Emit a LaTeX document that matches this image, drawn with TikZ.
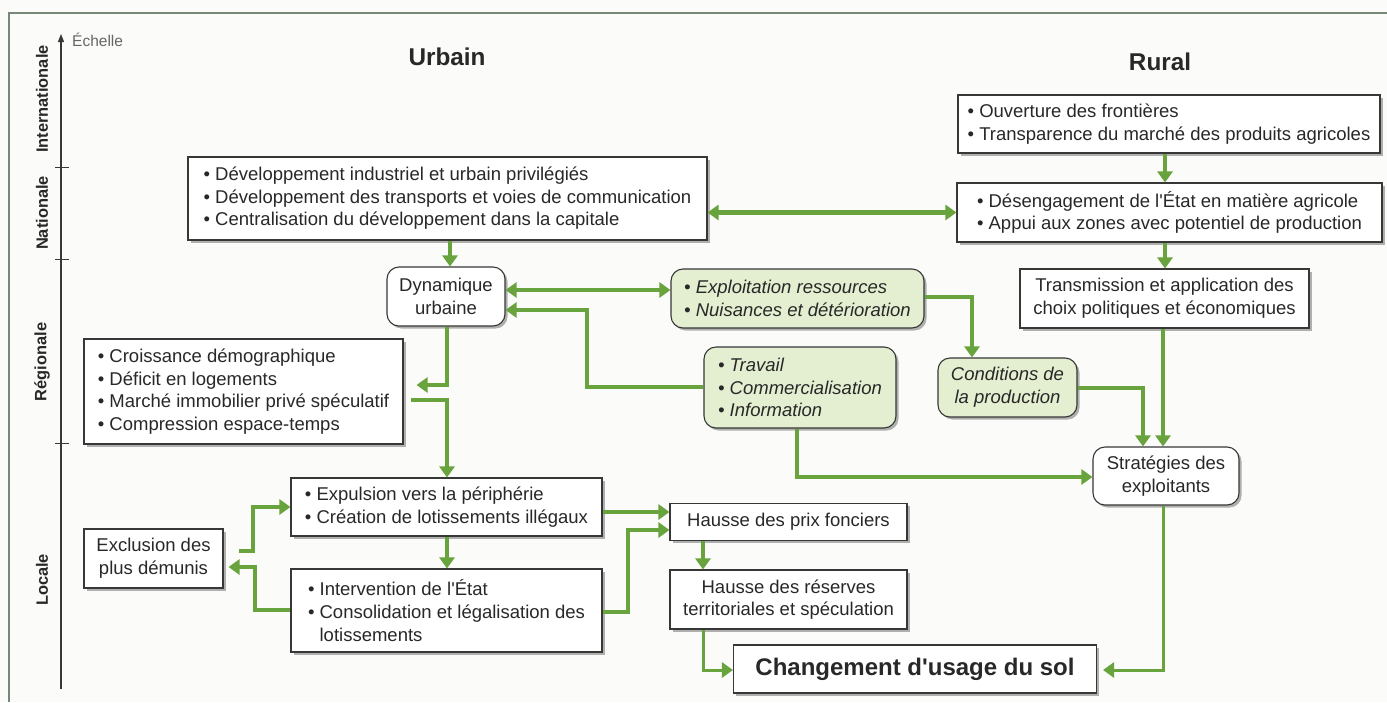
\documentclass[tikz,border=0pt]{standalone}
\usepackage{fontspec}
\setmainfont{Liberation Sans}[Ligatures=TeXOff]
\usetikzlibrary{arrows.meta,shadows}
\definecolor{arrgreen}{RGB}{104,163,62}
\definecolor{boxgreen}{RGB}{228,238,208}
\definecolor{boxline}{RGB}{55,55,55}
\definecolor{txt}{RGB}{40,40,40}
\definecolor{frm}{RGB}{120,135,120}
\definecolor{bg}{RGB}{251,251,249}
\tikzset{
  gtip/.tip={Triangle[length=11pt,width=15pt]},
  base/.style={draw=boxline, line width=1.1pt, fill=white, inner sep=0pt, text=txt,
    font=\fontsize{18.5}{22.6}\selectfont,
    drop shadow={shadow xshift=2.5pt, shadow yshift=-2.5pt, fill=black, opacity=0.3}},
  sq/.style={base},
  rnd/.style={base, rounded corners=12pt},
  grn/.style={base, rounded corners=12pt, fill=boxgreen, font=\fontsize{18.5}{22.6}\selectfont\itshape},
  arr/.style={draw=arrgreen, line width=4.5pt, -gtip},
  darr/.style={draw=arrgreen, line width=4.5pt, gtip-gtip},
  tarr/.style={draw=arrgreen, line width=3pt, -gtip},
  scalelab/.style={font=\fontsize{16.4}{18}\selectfont\bfseries, text=txt, rotate=90, inner sep=0pt},
  title/.style={font=\fontsize{24.3}{28}\selectfont\bfseries, text=txt, inner sep=0pt},
}
\begin{document}
\begin{tikzpicture}[x=1pt,y=-1pt]
\useasboundingbox (0,0) rectangle (1387,702);
\fill[bg] (0,0) rectangle (1387,702);
\draw[frm, line width=1.2pt] (9,702) -- (9,13) -- (1387,13);

% scale axis
\draw[boxline, line width=1.3pt, -{Triangle[length=8pt,width=6pt]}] (61,689) -- (61,34);
\foreach \yy in {167,259,443} \draw[boxline, line width=1pt] (55,\yy) -- (69,\yy);
\node[anchor=west, inner sep=0pt, font=\fontsize{15.5}{17}\selectfont, text=black!60] (ech) at (72,40) {Échelle};
\node[scalelab] (sInt) at (42,99) {Internationale};
\node[scalelab] (sNat) at (42,213) {Nationale};
\node[scalelab] (sReg) at (42,362) {Régionale};
\node[scalelab] (sLoc) at (42,580) {Locale};

\node[title] (urb) at (447,57) {Urbain};
\node[title] (rur) at (1160,62) {Rural};

% boxes
\node[sq, minimum width=519pt, minimum height=83pt, align=left] (dev) at (447.5,198.5)
 {• Développement industriel et urbain privilégiés\\• Développement des transports et voies de communication\\• Centralisation du développement dans la capitale};
\node[sq, minimum width=422pt, minimum height=58pt, align=left] (ouv) at (1169,124)
 {• Ouverture des frontières\\• Transparence du marché des produits agricoles};
\node[sq, minimum width=425pt, minimum height=59pt, align=left] (des) at (1169.5,212.5)
 {• Désengagement de l'État en matière agricole\\• Appui aux zones avec potentiel de production};
\node[sq, minimum width=289pt, minimum height=59pt, align=center] (trans) at (1164.5,298.5)
 {Transmission et application des\\choix politiques et économiques};
\node[rnd, minimum width=118pt, minimum height=59pt, align=center] (dyn) at (446,296.5)
 {Dynamique\\urbaine};
\node[grn, minimum width=253pt, minimum height=59pt, align=left] (expl) at (797.5,298.5)
 {• Exploitation ressources\\• Nuisances et détérioration};
\node[grn, minimum width=192pt, minimum height=81pt, align=left] (trav) at (800,387.5)
 {• Travail\\• Commercialisation\\• Information};
\node[grn, minimum width=139pt, minimum height=59pt, align=center] (cond) at (1007.5,387.5)
 {Conditions de\\la production};
\node[rnd, minimum width=146pt, minimum height=58pt, align=center] (strat) at (1166,476)
 {Stratégies des\\exploitants};
\node[sq, minimum width=319pt, minimum height=105pt, align=left] (crois) at (243.5,391.5)
 {• Croissance démographique\\• Déficit en logements\\• Marché immobilier privé spéculatif\\• Compression espace-temps};
\node[sq, minimum width=311pt, minimum height=58pt, align=left] (expu) at (446.5,507)
 {• Expulsion vers la périphérie\\• Création de lotissements illégaux};
\node[sq, minimum width=311pt, minimum height=83pt, align=left] (inter) at (446.5,610.5)
 {• Intervention de l'État\\• Consolidation et légalisation des\\\hphantom{• }lotissements};
\node[sq, minimum width=139pt, minimum height=59pt, align=center] (excl) at (153.5,558.5)
 {Exclusion des\\plus démunis};
\node[sq, minimum width=237pt, minimum height=37pt, align=center] (hprix) at (788.5,522)
 {Hausse des prix fonciers};
\node[sq, minimum width=237pt, minimum height=59pt, align=center] (res) at (788.5,599.5)
 {Hausse des réserves\\territoriales et spéculation};
\node[sq, minimum width=363pt, minimum height=48pt, align=center, font=\fontsize{24}{28}\selectfont\bfseries] (chg) at (915,669)
 {Changement d'usage du sol};

% helper points near box edges
\path (crois.east) ++(13,0) coordinate (ci);
\path (crois.east) ++(7,0) coordinate (co);
\path (excl.east) ++(15,0) coordinate (eo);
\path (excl.east) ++(5,0) coordinate (ei);
\path (chg.east) ++(6,0) coordinate (cgi);

% connectors
\draw[darr] (dev.east |- des.west) -- (des.west);
\draw[arr] (ouv.south -| 1165,0) -- (des.north -| 1165,0);
\draw[arr] (des.south -| 1165,0) -- (trans.north -| 1165,0);
\draw[arr] (dev.south -| 450,0) -- (dyn.north -| 450,0);
\draw[darr] (dyn.east |- 0,290) -- (expl.west |- 0,290);
\draw[arr] (trav.west |- 0,387) -- (587,387) -- (587,310) -- (dyn.east |- 0,310);
\draw[arr] (expl.east |- 0,297) -| (cond.north -| 972,0);
\draw[arr] (cond.east |- 0,388) -| (strat.north -| 1143,0);
\draw[arr] (trans.south -| 1163,0) -- (strat.north -| 1163,0);
\draw[arr] (trav.south -| 797,0) |- (strat.west |- 0,477);
\draw[arr] (dyn.south -| 447,0) |- (ci |- 0,385);
\draw[arr] (co |- 0,400) -| (expu.north -| 447,0);
\draw[arr] (expu.south -| 447,0) -- (inter.north -| 447,0);
\draw[arr] (eo |- 0,551) -- (253,551) -- (253,507) -- (expu.west |- 0,507);
\draw[arr] (inter.west |- 0,610) -- (255,610) -- (255,567) -- (ei |- 0,567);
\draw[arr] (expu.east |- 0,512) -- (hprix.west |- 0,512);
\draw[arr] (inter.east |- 0,612) -- (628,612) -- (628,530) -- (hprix.west |- 0,530);
\draw[arr] (hprix.south -| 703,0) -- (res.north -| 703,0);
\draw[tarr] (res.south -| 703,0) |- (chg.west |- 0,670);
\draw[tarr] (strat.south -| 1163,0) |- (cgi |- 0,670);
\end{tikzpicture}
\end{document}
